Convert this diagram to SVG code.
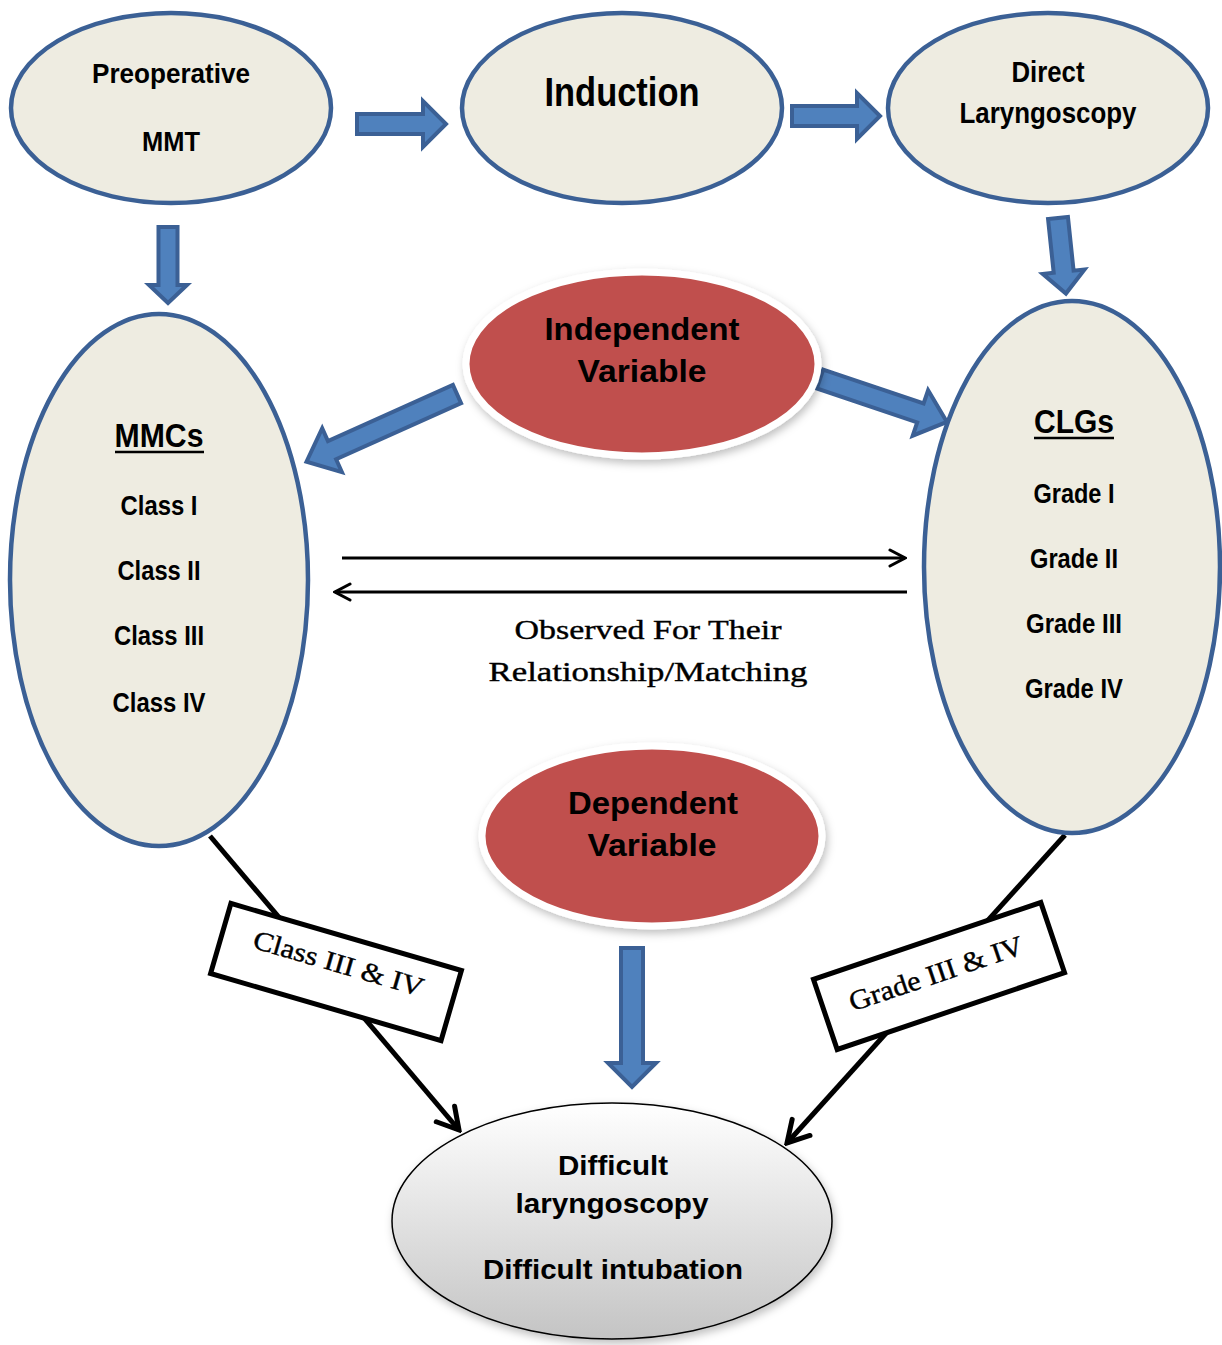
<svg xmlns="http://www.w3.org/2000/svg" width="1222" height="1345" viewBox="0 0 1222 1345">
<defs>
<style>
.blue{fill:#eeece1;stroke:#3b6095;stroke-width:4.5}
.red{fill:#c0504d;stroke:#ffffff;stroke-width:7}
.barrow{fill:#4f81bd;stroke:#3b6095;stroke-width:4;stroke-linejoin:miter}
.t{font-family:"Liberation Sans",Arial,sans-serif;font-weight:bold;fill:#000;text-anchor:middle}
.s{font-family:"Liberation Serif","Times New Roman",serif;fill:#000;stroke:#000;stroke-width:0.4;text-anchor:middle}
.line{stroke:#000;fill:none}
.lbl{fill:#fff;stroke:#000;stroke-width:5}
</style>
<linearGradient id="grey" x1="0" y1="0" x2="0" y2="1">
<stop offset="0" stop-color="#ffffff"/>
<stop offset="1" stop-color="#c4c4c4"/>
</linearGradient>
<filter id="sh" x="-20%" y="-20%" width="140%" height="150%">
<feDropShadow dx="2" dy="4" stdDeviation="4" flood-color="#000" flood-opacity="0.25"/>
</filter>
<marker id="chevBig" viewBox="0 0 30 30" refX="27" refY="15" markerWidth="30" markerHeight="30" orient="auto" markerUnits="userSpaceOnUse">
<path d="M6,3 L27,15 L6,27" fill="none" stroke="#000" stroke-width="5" stroke-linecap="round" stroke-linejoin="miter"/>
</marker>
<marker id="chev" viewBox="0 0 20 20" refX="18" refY="10" markerWidth="20" markerHeight="20" orient="auto" markerUnits="userSpaceOnUse">
<path d="M3,2 L18,10 L3,18" fill="none" stroke="#000" stroke-width="3" stroke-linecap="round"/>
</marker>
</defs>
<rect width="1222" height="1345" fill="#ffffff"/>

<g id="connectors">
<path class="barrow" transform="translate(357,124)" d="M0,-10 L66,-10 L66,-23 L89,0 L66,23 L66,10 L0,10 Z"/>
<path class="barrow" transform="translate(792,116)" d="M0,-10 L65,-10 L65,-23 L88,0 L65,23 L65,10 L0,10 Z"/>
<path class="barrow" transform="translate(168,227) rotate(90)" d="M0,-9.5 L58,-9.5 L58,-19 L76,0 L58,19 L58,9.5 L0,9.5 Z"/>
<path class="barrow" transform="translate(1058,218) rotate(84)" d="M0,-10 L54,-10 L54,-21 L76,0 L54,21 L54,10 L0,10 Z"/>
<path class="barrow" transform="translate(632,948) rotate(90)" d="M0,-11 L115,-11 L115,-24 L139,0 L115,24 L115,11 L0,11 Z"/>
<path class="barrow" transform="translate(457,394) rotate(155.8)" d="M0,-10 L137,-10 L137,-24 L165,0 L137,24 L137,10 L0,10 Z"/>
<path class="barrow" transform="translate(820,379) rotate(18.7)" d="M0,-10 L106,-10 L106,-24 L134,0 L106,24 L106,10 L0,10 Z"/>
<line class="line" x1="342" y1="558" x2="905" y2="558" stroke-width="3" marker-end="url(#chev)"/>
<line class="line" x1="907" y1="592" x2="335" y2="592" stroke-width="3" marker-end="url(#chev)"/>
<line class="line" x1="210" y1="836" x2="459" y2="1130" stroke-width="5" marker-end="url(#chevBig)"/>
<line class="line" x1="1065" y1="835" x2="787" y2="1143" stroke-width="5" marker-end="url(#chevBig)"/>
</g>

<g id="label-class">
<g transform="translate(336,972) rotate(16.2)">
<rect class="lbl" x="-120" y="-36.5" width="240" height="73"/>
<text class="s" x="0" y="0" font-size="27" textLength="176" lengthAdjust="spacingAndGlyphs">Class III &amp; IV</text>
</g>
</g>
<g id="label-grade">
<g transform="translate(939,976) rotate(-18.7)">
<rect class="lbl" x="-120" y="-37" width="240" height="74"/>
<text class="s" x="-2" y="6" font-size="28" textLength="182" lengthAdjust="spacingAndGlyphs">Grade III &amp; IV</text>
</g>
</g>

<g id="node-preop">
<ellipse class="blue" cx="171" cy="108" rx="160" ry="95"/>
<text class="t" x="171" y="83" font-size="28" textLength="158" lengthAdjust="spacingAndGlyphs">Preoperative</text>
<text class="t" x="171" y="151" font-size="28" textLength="58" lengthAdjust="spacingAndGlyphs">MMT</text>
</g>
<g id="node-induction">
<ellipse class="blue" cx="622" cy="108" rx="160" ry="95"/>
<text class="t" x="622" y="106" font-size="40" textLength="155" lengthAdjust="spacingAndGlyphs">Induction</text>
</g>
<g id="node-dl">
<ellipse class="blue" cx="1048" cy="108" rx="160" ry="95"/>
<text class="t" x="1048" y="82" font-size="29" textLength="73" lengthAdjust="spacingAndGlyphs">Direct</text>
<text class="t" x="1048" y="123" font-size="29" textLength="177" lengthAdjust="spacingAndGlyphs">Laryngoscopy</text>
</g>
<g id="node-mmcs">
<ellipse class="blue" cx="159" cy="580" rx="149" ry="266"/>
<text class="t" x="159" y="447" font-size="34" textLength="89" lengthAdjust="spacingAndGlyphs">MMCs</text>
<line x1="115" y1="452" x2="204" y2="452" stroke="#000" stroke-width="2.5"/>
<text class="t" x="159" y="515" font-size="28" textLength="77" lengthAdjust="spacingAndGlyphs">Class I</text>
<text class="t" x="159" y="580" font-size="28" textLength="83" lengthAdjust="spacingAndGlyphs">Class II</text>
<text class="t" x="159" y="645" font-size="28" textLength="90" lengthAdjust="spacingAndGlyphs">Class III</text>
<text class="t" x="159" y="712" font-size="28" textLength="93" lengthAdjust="spacingAndGlyphs">Class IV</text>
</g>
<g id="node-clgs">
<ellipse class="blue" cx="1072" cy="567" rx="148" ry="266"/>
<text class="t" x="1074" y="433" font-size="34" textLength="80" lengthAdjust="spacingAndGlyphs">CLGs</text>
<line x1="1034" y1="438" x2="1114" y2="438" stroke="#000" stroke-width="2.5"/>
<text class="t" x="1074" y="503" font-size="28" textLength="81" lengthAdjust="spacingAndGlyphs">Grade I</text>
<text class="t" x="1074" y="568" font-size="28" textLength="88" lengthAdjust="spacingAndGlyphs">Grade II</text>
<text class="t" x="1074" y="633" font-size="28" textLength="96" lengthAdjust="spacingAndGlyphs">Grade III</text>
<text class="t" x="1074" y="698" font-size="28" textLength="98" lengthAdjust="spacingAndGlyphs">Grade IV</text>
</g>
<g id="node-independent">
<ellipse class="red" cx="642" cy="364" rx="176" ry="92" filter="url(#sh)"/>
<text class="t" x="642" y="340" font-size="31" textLength="195" lengthAdjust="spacingAndGlyphs">Independent</text>
<text class="t" x="642" y="382" font-size="31" textLength="129" lengthAdjust="spacingAndGlyphs">Variable</text>
</g>
<g id="node-dependent">
<ellipse class="red" cx="652" cy="836" rx="170" ry="90" filter="url(#sh)"/>
<text class="t" x="653" y="814" font-size="31" textLength="170" lengthAdjust="spacingAndGlyphs">Dependent</text>
<text class="t" x="652" y="856" font-size="31" textLength="129" lengthAdjust="spacingAndGlyphs">Variable</text>
</g>
<g id="node-difficult">
<ellipse cx="612" cy="1221" rx="220" ry="118" fill="url(#grey)" stroke="#000" stroke-width="1.5" filter="url(#sh)"/>
<text class="t" x="613" y="1175" font-size="28" textLength="110" lengthAdjust="spacingAndGlyphs">Difficult</text>
<text class="t" x="612" y="1213" font-size="28" textLength="193" lengthAdjust="spacingAndGlyphs">laryngoscopy</text>
<text class="t" x="613" y="1279" font-size="28" textLength="260" lengthAdjust="spacingAndGlyphs">Difficult intubation</text>
</g>
<g id="relation-text">
<text class="s" x="648" y="639" font-size="28" textLength="267" lengthAdjust="spacingAndGlyphs">Observed For Their</text>
<text class="s" x="648" y="681" font-size="28" textLength="319" lengthAdjust="spacingAndGlyphs">Relationship/Matching</text>
</g>
</svg>
